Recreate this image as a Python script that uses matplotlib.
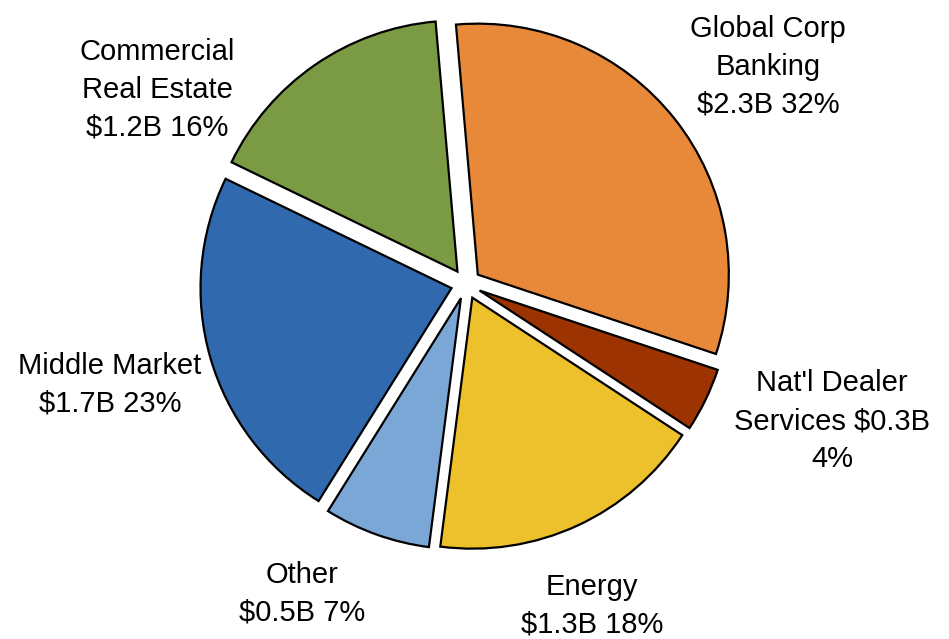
import matplotlib
matplotlib.use("Agg")
import matplotlib.pyplot as plt

# Loan portfolio by business segment ($ billions)
segments = ["Global Corp\nBanking", "Nat'l Dealer\nServices", "Energy", "Other",
            "Middle Market", "Commercial\nReal Estate"]
values = [2.3, 0.3, 1.3, 0.5, 1.7, 1.2]
colors = ["#E8893A", "#9C3300", "#EDC12B", "#7BA7D7", "#3169AE", "#7B9A44"]

# label anchor points in pie data units (pie radius = 1)
label_xy = [(1.203, 0.865), (1.458, -0.546), (0.502, -1.283), (-0.653, -1.235),
            (-1.418, -0.402), (-1.231, 0.773)]

plt.rcParams["font.family"] = ["Liberation Sans", "DejaVu Sans"]

fig = plt.figure(figsize=(9.49, 6.39), dpi=100)
ax = fig.add_axes([0.0943, -0.0336, 0.7935, 1.1784])

total = sum(values)
ax.pie(values, colors=colors, startangle=95, counterclock=False,
       explode=[0.06] * len(values), radius=1.0,
       wedgeprops=dict(edgecolor="black", linewidth=1.6))
ax.set_xlim(-1.5, 1.5)
ax.set_ylim(-1.5, 1.5)
ax.set_aspect("equal")
ax.axis("off")

for name, v, (x, y) in zip(segments, values, label_xy):
    pct = round(100 * v / total)
    if name.startswith("Nat'l"):
        text = f"{name} ${v}B\n{pct}%"
    else:
        text = f"{name}\n${v}B {pct}%"
    ax.text(x, y, text, ha="center", va="center", fontsize=21,
            linespacing=1.45, clip_on=False)

fig.savefig("out.png", dpi=100)
